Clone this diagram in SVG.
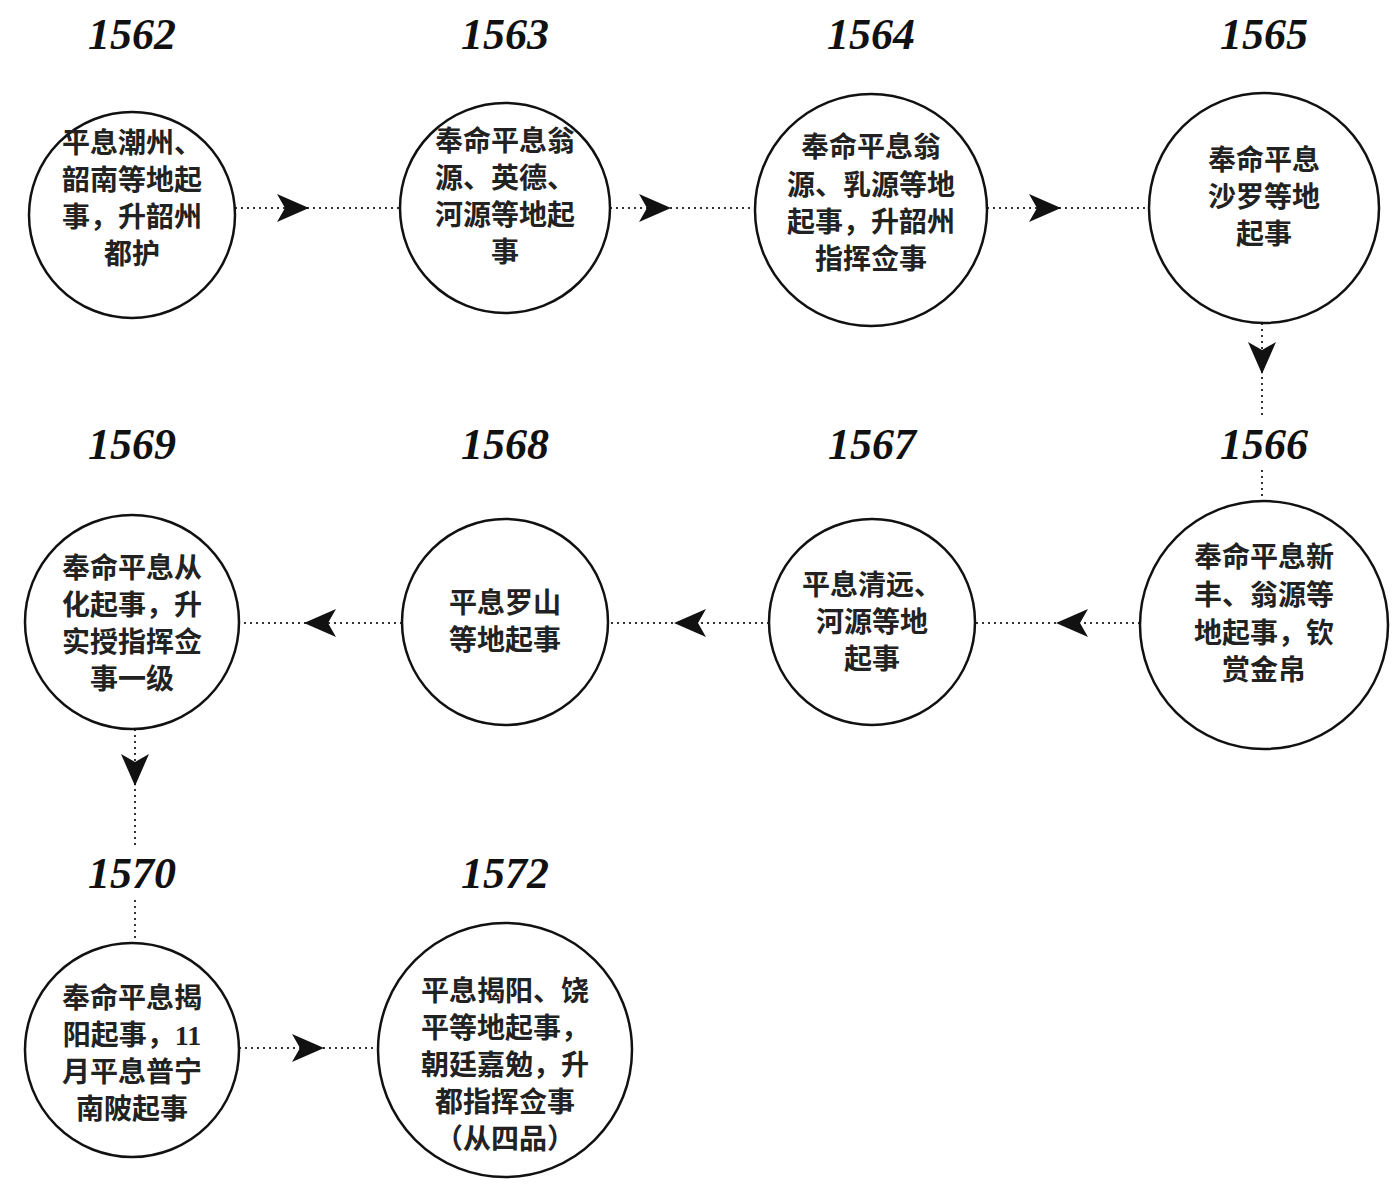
<svg xmlns="http://www.w3.org/2000/svg" width="1400" height="1190" viewBox="0 0 1400 1190">
<style>
.c{fill:#fff;stroke:#111;stroke-width:2.5}
.y{font-family:"Liberation Serif",serif;font-weight:bold;font-style:italic;font-size:44px;fill:#111;text-anchor:middle}
.t{font-family:"Liberation Serif","Noto Sans CJK SC",serif;font-weight:bold;font-size:28px;fill:#222;text-anchor:middle}
.l{stroke:#333;stroke-width:2;stroke-dasharray:2 4;fill:none}
.a{fill:#111}
</style>
<defs>
<polygon id="ar" points="16,0 -16,-14 -8,0 -16,14"/>
</defs>
<rect width="1400" height="1190" fill="#fff"/>
<g id="connectors">
<line class="l" x1="235" y1="208" x2="400" y2="208"/><use href="#ar" class="a" x="293" y="208"/>
<line class="l" x1="610" y1="208" x2="756" y2="208"/><use href="#ar" class="a" x="655" y="208"/>
<line class="l" x1="987" y1="208" x2="1149" y2="208"/><use href="#ar" class="a" x="1045" y="208"/>
<line class="l" x1="1262" y1="323" x2="1262" y2="418"/><line class="l" x1="1262" y1="470" x2="1262" y2="501"/><use href="#ar" class="a" transform="translate(1262,358) rotate(90)"/>
<line class="l" x1="1140" y1="623" x2="975" y2="623"/><use href="#ar" class="a" transform="translate(1072,623) rotate(180)"/>
<line class="l" x1="769" y1="623" x2="608" y2="623"/><use href="#ar" class="a" transform="translate(690,623) rotate(180)"/>
<line class="l" x1="402" y1="623" x2="239" y2="623"/><use href="#ar" class="a" transform="translate(320,623) rotate(180)"/>
<line class="l" x1="135" y1="729" x2="135" y2="848"/><line class="l" x1="135" y1="900" x2="135" y2="943"/><use href="#ar" class="a" transform="translate(135,770) rotate(90)"/>
<line class="l" x1="239" y1="1048" x2="378" y2="1048"/><use href="#ar" class="a" x="308" y="1048"/>
</g>
<g id="n1562"><text class="y" x="132" y="49">1562</text><circle class="c" cx="132" cy="215" r="103"/>
<text class="t" x="132" y="153">平息潮州、</text><text class="t" x="132" y="190">韶南等地起</text><text class="t" x="132" y="227">事，升韶州</text><text class="t" x="132" y="264">都护</text></g>
<g id="n1563"><text class="y" x="505" y="49">1563</text><circle class="c" cx="505" cy="208" r="105"/>
<text class="t" x="505" y="151">奉命平息翁</text><text class="t" x="505" y="188">源、英德、</text><text class="t" x="505" y="225">河源等地起</text><text class="t" x="505" y="262">事</text></g>
<g id="n1564"><text class="y" x="871" y="49">1564</text><circle class="c" cx="871" cy="210" r="116"/>
<text class="t" x="871" y="157">奉命平息翁</text><text class="t" x="871" y="195">源、乳源等地</text><text class="t" x="871" y="232">起事，升韶州</text><text class="t" x="871" y="269">指挥佥事</text></g>
<g id="n1565"><text class="y" x="1264" y="49">1565</text><circle class="c" cx="1264" cy="208" r="115"/>
<text class="t" x="1264" y="170">奉命平息</text><text class="t" x="1264" y="207">沙罗等地</text><text class="t" x="1264" y="244">起事</text></g>
<g id="n1566"><text class="y" x="1264" y="459">1566</text><circle class="c" cx="1264" cy="625" r="124"/>
<text class="t" x="1264" y="567">奉命平息新</text><text class="t" x="1264" y="605">丰、翁源等</text><text class="t" x="1264" y="643">地起事，钦</text><text class="t" x="1264" y="680">赏金帛</text></g>
<g id="n1567"><text class="y" x="872" y="459">1567</text><circle class="c" cx="872" cy="622" r="103"/>
<text class="t" x="872" y="595">平息清远、</text><text class="t" x="872" y="632">河源等地</text><text class="t" x="872" y="669">起事</text></g>
<g id="n1568"><text class="y" x="505" y="459">1568</text><circle class="c" cx="505" cy="622" r="103"/>
<text class="t" x="505" y="613">平息罗山</text><text class="t" x="505" y="650">等地起事</text></g>
<g id="n1569"><text class="y" x="132" y="459">1569</text><circle class="c" cx="132" cy="622" r="107"/>
<text class="t" x="132" y="578">奉命平息从</text><text class="t" x="132" y="615">化起事，升</text><text class="t" x="132" y="652">实授指挥佥</text><text class="t" x="132" y="689">事一级</text></g>
<g id="n1570"><text class="y" x="132" y="888">1570</text><circle class="c" cx="132" cy="1050" r="107"/>
<text class="t" x="132" y="1008">奉命平息揭</text><text class="t" x="132" y="1045">阳起事，11</text><text class="t" x="132" y="1082">月平息普宁</text><text class="t" x="132" y="1119">南陂起事</text></g>
<g id="n1572"><text class="y" x="505" y="888">1572</text><circle class="c" cx="505" cy="1050" r="127"/>
<text class="t" x="505" y="1001">平息揭阳、饶</text><text class="t" x="505" y="1038">平等地起事，</text><text class="t" x="505" y="1075">朝廷嘉勉，升</text><text class="t" x="505" y="1112">都指挥佥事</text><text class="t" x="505" y="1149">（从四品）</text></g>
</svg>
